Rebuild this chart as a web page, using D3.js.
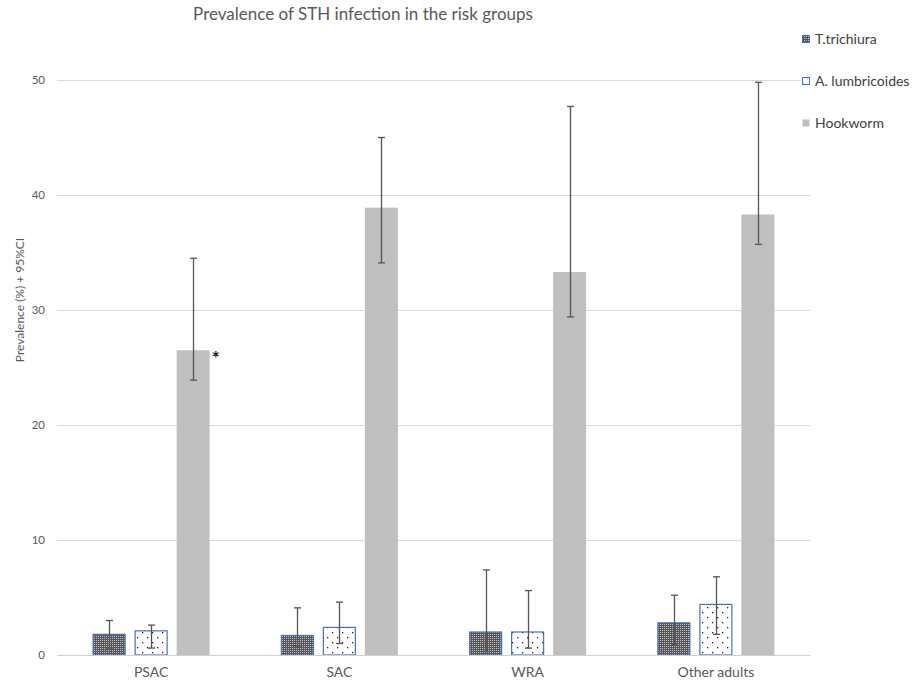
<!DOCTYPE html>
<html><head><meta charset="utf-8">
<script src="https://cdn.jsdelivr.net/npm/d3@7"></script>
<style>body{margin:0;background:#fff;} svg{display:block;font-family:Lato,"Open Sans",sans-serif;}</style>
</head><body>
<svg id="c" width="923" height="683"></svg>
<script>
const categories = ["PSAC", "SAC", "WRA", "Other adults"];
const seriesNames = ["T.trichiura", "A. lumbricoides", "Hookworm"];
const trichiura = [1.8, 1.7, 2.0, 2.8];
const trichiuraLow = [0.6, 0.7, 0.3, 0.9];
const trichiuraHigh = [3.0, 4.1, 7.4, 5.2];
const lumbricoides = [2.1, 2.4, 2.0, 4.4];
const lumbricoidesLow = [0.6, 1.0, 0.6, 1.8];
const lumbricoidesHigh = [2.6, 4.6, 5.6, 6.8];
const hookworm = [26.5, 38.9, 33.3, 38.3];
const hookwormLow = [23.9, 34.1, 29.4, 35.7];
const hookwormHigh = [34.5, 45.0, 47.7, 49.8];
const yTicks = [0, 10, 20, 30, 40, 50];
const title = "Prevalence of STH infection in the risk groups";
const yTitle = "Prevalence (%) + 95%CI";

const svg = d3.select("#c");
const defs = svg.append("defs");
const p1 = defs.append("pattern").attr("id","pTri").attr("patternUnits","userSpaceOnUse").attr("width",2).attr("height",2);
p1.append("rect").attr("width",2).attr("height",2).attr("fill","#555");
p1.append("rect").attr("width",1).attr("height",1).attr("fill","#c4c4c4");
const p2 = defs.append("pattern").attr("id","pLum").attr("patternUnits","userSpaceOnUse").attr("width",10).attr("height",10);
p2.append("rect").attr("width",10).attr("height",10).attr("fill","#fff");
p2.append("rect").attr("x",2).attr("y",2).attr("width",1.3).attr("height",1.3).attr("fill","#222");
p2.append("rect").attr("x",7).attr("y",7).attr("width",1.3).attr("height",1.3).attr("fill","#222");

const fills = ["url(#pTri)", "url(#pLum)", "#bfbfbf"];
const strokes = ["#4a72b8", "#4a72b8", "none"];

const y = d3.scaleLinear().domain([0, 50]).range([655, 80]);
const x0 = d3.scaleBand().domain(categories).range([57, 810]).padding(0);
const groupW = 117;
const off = (x0.bandwidth() - groupW) / 2;
const x1 = d3.scaleBand().domain(seriesNames).range([off, off + groupW]).paddingInner(9/42).paddingOuter(0);

// gridlines
svg.append("g").selectAll("line").data(yTicks).join("line")
  .attr("x1", 57).attr("x2", 810)
  .attr("y1", d => y(d) + 0.5).attr("y2", d => y(d) + 0.5)
  .attr("stroke", "#d9d9d9").attr("stroke-width", 1);

// y axis labels
const yAxis = d3.axisLeft(y).tickValues(yTicks).tickSize(0).tickPadding(0);
const ga = svg.append("g").attr("transform", "translate(45,0)").call(yAxis);
ga.select(".domain").remove();
ga.selectAll("text").attr("fill", "#595959").style("font-size", "11.5px").style("font-family", "Lato, sans-serif");

// x axis labels
const xAxis = d3.axisBottom(x0).tickSize(0).tickPadding(0);
const gx = svg.append("g").attr("transform", "translate(0,667)").call(xAxis);
gx.select(".domain").remove();
gx.selectAll("text").attr("fill", "#595959").style("font-size", "14px").style("font-family", "Lato, sans-serif");

const vals = [trichiura, lumbricoides, hookworm];
const lows = [trichiuraLow, lumbricoidesLow, hookwormLow];
const highs = [trichiuraHigh, lumbricoidesHigh, hookwormHigh];
const rows = [];
seriesNames.forEach((s, si) => categories.forEach((c, ci) => rows.push({s, si, c, v: vals[si][ci], lo: lows[si][ci], hi: highs[si][ci]})));

svg.append("g").selectAll("rect").data(rows).join("rect")
  .attr("x", d => x0(d.c) + x1(d.s) + (d.si < 2 ? 0.5 : 0))
  .attr("y", d => y(d.v))
  .attr("width", d => x1.bandwidth() - (d.si < 2 ? 1 : 0))
  .attr("height", d => y(0) - y(d.v))
  .attr("fill", d => fills[d.si])
  .attr("stroke", d => strokes[d.si])
  .attr("stroke-width", 1.2);

// baseline
svg.append("line").attr("x1", 57).attr("x2", 810).attr("y1", y(0) + 0.5).attr("y2", y(0) + 0.5).attr("stroke", "#d0d0d0");

// error bars
const eb = svg.append("g").attr("stroke", "#555").attr("stroke-width", 1.3);
rows.forEach(d => {
  const cx = Math.round(x0(d.c) + x1(d.s) + x1.bandwidth() / 2) + 0.5;
  eb.append("line").attr("x1", cx).attr("x2", cx).attr("y1", y(d.hi)).attr("y2", y(d.lo));
  eb.append("line").attr("x1", cx - 3.5).attr("x2", cx + 3.5).attr("y1", y(d.hi)).attr("y2", y(d.hi));
  eb.append("line").attr("x1", cx - 3.5).attr("x2", cx + 3.5).attr("y1", y(d.lo)).attr("y2", y(d.lo));
});

// asterisk
svg.append("text").attr("x", x0("PSAC") + x1("Hookworm") + x1.bandwidth() + 2).attr("y", y(hookworm[0]) + 15)
  .attr("font-size", "19px").attr("font-weight", "bold").attr("fill", "#111").text("*");

// title
svg.append("text").attr("x", 363).attr("y", 20).attr("text-anchor", "middle")
  .attr("font-size", "17px").attr("fill", "#595959").text(title);

// y title
svg.append("text").attr("transform", "translate(24,300) rotate(-90)").attr("text-anchor", "middle")
  .attr("font-size", "12px").attr("fill", "#595959").text(yTitle);

// legend
const lg = svg.append("g");
lg.append("rect").attr("x", 801).attr("y", 28).attr("width", 122).attr("height", 110).attr("fill", "#fff");
seriesNames.forEach((s, i) => {
  const ly = 39 + i * 42;
  lg.append("rect").attr("x", 802.5).attr("y", ly - 3.5).attr("width", 7).attr("height", 7)
    .attr("fill", fills[i]).attr("stroke", strokes[i]).attr("stroke-width", 1);
  lg.append("text").attr("x", 815).attr("y", ly + 5).attr("font-size", "14px").attr("fill", "#404040").text(s);
});
</script>
</body></html>
